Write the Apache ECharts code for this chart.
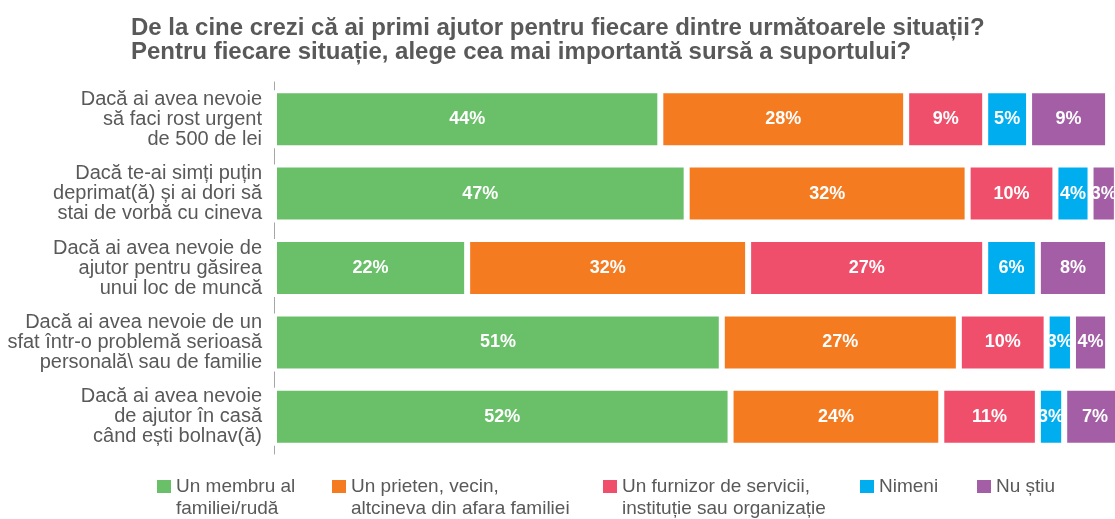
<!DOCTYPE html>
<html>
<head>
<meta charset="utf-8">
<script src="https://cdn.jsdelivr.net/npm/echarts@6/dist/echarts.min.js"></script>
<style>html,body{margin:0;padding:0;background:#fff;overflow:hidden;width:1115px;height:519px}#c{width:1152px;height:519px}</style>
</head>
<body>
<div id="c"></div>
<script>
const categories = [
  "Dacă ai avea nevoie\nsă faci rost urgent\nde 500 de lei",
  "Dacă te-ai simți puțin\ndeprimat(ă) și ai dori să\nstai de vorbă cu cineva",
  "Dacă ai avea nevoie de\najutor pentru găsirea\nunui loc de muncă",
  "Dacă ai avea nevoie de un\nsfat într-o problemă serioasă\npersonală\\ sau de familie",
  "Dacă ai avea nevoie\nde ajutor în casă\ncând ești bolnav(ă)"
];
const seriesNames = [
  "Un membru al\nfamiliei/rudă",
  "Un prieten, vecin,\naltcineva din afara familiei",
  "Un furnizor de servicii,\ninstituție sau organizație",
  "Nimeni",
  "Nu știu"
];
const familie = [44, 47, 22, 51, 52];
const prieten = [28, 32, 32, 27, 24];
const furnizor = [9, 10, 27, 10, 11];
const nimeni = [5, 4, 6, 3, 3];
const nuStiu = [9, 3, 8, 4, 7];
const colors = ["#6ABF69", "#F47B20", "#EF4F6B", "#00AEEF", "#A35EA6"];

const FONT = "Arial, 'Liberation Sans', sans-serif";
const values = [familie, prieten, furnizor, nimeni, nuStiu];

const chart = echarts.init(document.getElementById('c'), null, {renderer: 'canvas'});

const legendLeft = [157, 332, 603, 860, 977];
const legends = seriesNames.map((n, i) => {
  const two = n.indexOf('\n') >= 0;
  return {
    data: [n],
    left: legendLeft[i],
    top: two ? 453.5 : 475.5,
    padding: 0,
    itemWidth: 14,
    itemHeight: 13,
    itemGap: 10,
    icon: 'rect',
    selectedMode: false,
    itemStyle: {borderWidth: 0},
    formatter: two ? (name => '\n' + name) : undefined,
    textStyle: {fontFamily: FONT, fontSize: 19, color: '#595959', lineHeight: 22}
  };
});

chart.setOption({
  animation: false,
  title: {
    text: "De la cine crezi că ai primi ajutor pentru fiecare dintre următoarele situații?\nPentru fiecare situație, alege cea mai importantă sursă a suportului?",
    left: 131,
    top: 16,
    padding: 0,
    textStyle: {fontFamily: FONT, fontSize: 24, fontWeight: 'bold', color: '#595959', lineHeight: 24}
  },
  legend: legends,
  grid: {left: 274, right: 0, top: 82, bottom: 65, containLabel: false},
  xAxis: {type: 'value', min: 0, max: 100, show: false},
  yAxis: {
    type: 'category',
    inverse: true,
    data: categories,
    axisLine: {show: true, lineStyle: {color: '#A6A6A6', width: 1}},
    axisTick: {show: false},
    axisLabel: {fontFamily: FONT, fontSize: 20, color: '#595959', lineHeight: 20, margin: 12, align: 'right'}
  },
  series: seriesNames.map((n, i) => ({
    name: n,
    type: 'bar',
    stack: 'total',
    barWidth: 58,
    data: values[i],
    itemStyle: {color: colors[i], borderColor: '#fff', borderWidth: 3},
    label: {
      show: true, position: 'inside', formatter: '{c}%',
      color: '#fff', fontFamily: FONT, fontSize: 18, fontWeight: 'bold'
    }
  }))
});
</script>
</body>
</html>
